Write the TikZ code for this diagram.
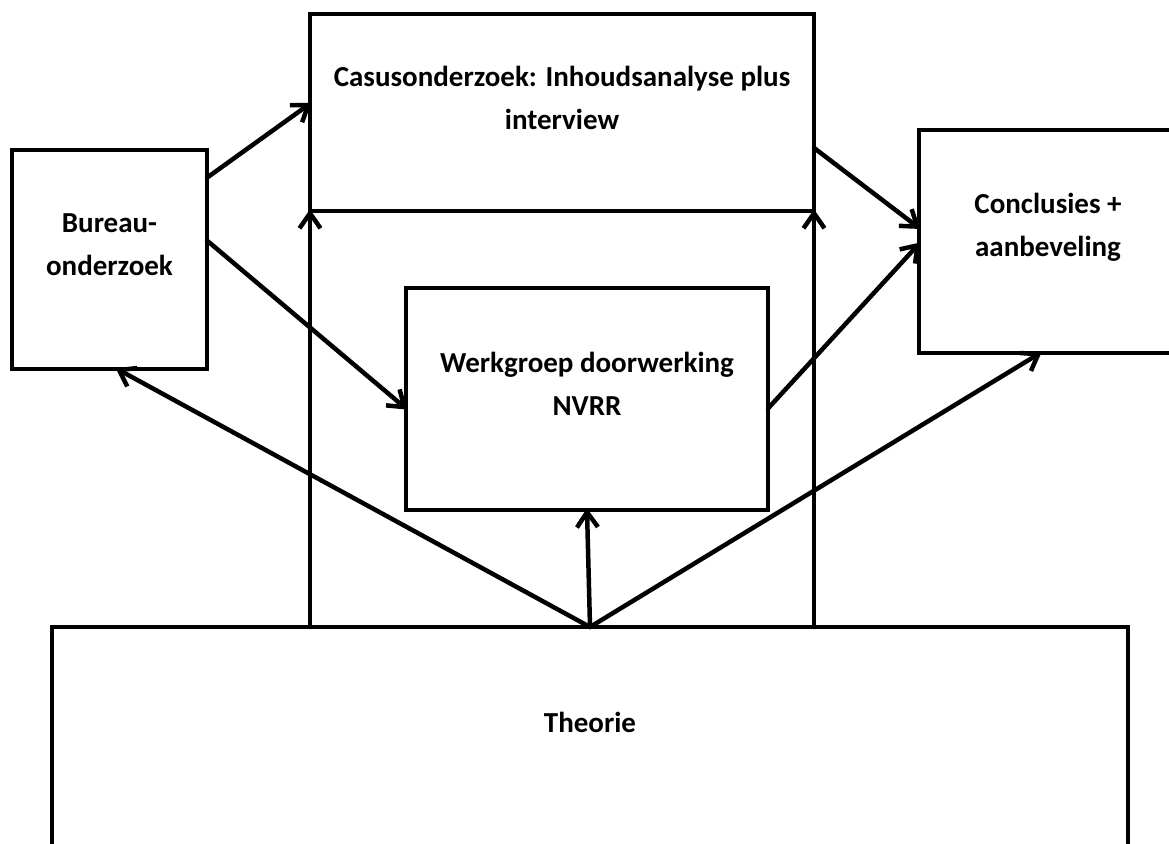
\documentclass[tikz,border=0pt]{standalone}
\usepackage{fontspec}
\setmainfont{Carlito}
\usetikzlibrary{arrows.meta}

\tikzset{
  blok/.style={draw, rectangle, line width=4.5pt, inner sep=0pt, outer sep=0pt},
  tekst/.style={font=\fontsize{29}{43}\selectfont\bfseries, align=center},
  pijl/.style={line width=4.5pt, line cap=round, -{Straight Barb[length=15pt,width=21pt,line join=round]}}
}

\begin{document}
\begin{tikzpicture}[x=1pt,y=-1pt]
		\useasboundingbox (0,0) rectangle (1169,843);
		\clip (0,0) rectangle (1169,843);

		% de blokken
		\node[blok, minimum width=504pt, minimum height=197pt] (casus) at (562,112.5) {};
		\node[blok, minimum width=195pt, minimum height=219pt] (bureau) at (109.5,259.5) {};
		\node[blok, minimum width=362pt, minimum height=222pt] (werkgroep) at (587,399) {};
		\node[blok, minimum width=258pt, minimum height=223pt] (conclusies) at (1048,241.5) {};
		\node[blok, minimum width=1076pt, minimum height=400pt] (theorie) at (590,827) {};

		% de teksten
		\node[tekst] (casustekst) at (562,98) {Casusonderzoek: Inhoudsanalyse plus\\interview};
		\node[tekst] (bureautekst) at (109.5,245) {Bureau-\\onderzoek};
		\node[tekst] (werkgroeptekst) at (587,384) {Werkgroep doorwerking\\NVRR};
		\node[tekst] (conclusiestekst) at (1048,227.5) {Conclusies +\\aanbeveling};
		\node[tekst] (theorietekst) at (590,722) {Theorie};

		% de pijlen
		\draw[pijl] (bureau.40) -- (casus.178);
		\draw[pijl] (bureau.11) -- (werkgroep.-177);
		\draw[pijl] (casus.-8) -- (conclusies.174);
		\draw[pijl] (werkgroep.-3) -- (conclusies.-179);
		\draw[pijl] (theorie.north) -- (bureau.-86);
		\draw[pijl] (theorie.north) -- (werkgroep.south);
		\draw[pijl] (theorie.north) -- (conclusies.-94);
		\draw[pijl] (casus.south west |- theorie.north) -- (casus.south west);
		\draw[pijl] (casus.south east |- theorie.north) -- (casus.south east);
	\end{tikzpicture}
\end{document}
